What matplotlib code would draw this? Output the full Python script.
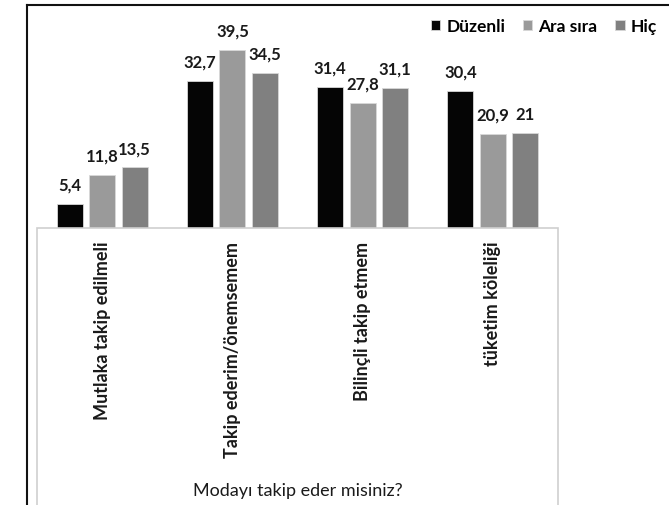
import numpy as np
import matplotlib
matplotlib.use('Agg')
import matplotlib.pyplot as plt
from matplotlib.patches import Rectangle
from matplotlib.lines import Line2D

categories = ['Mutlaka takip edilmeli', 'Takip ederim/önemsemem',
              'Bilinçli takip etmem', 'tüketim köleliği']
series = ['Düzenli', 'Ara sıra', 'Hiç']
duzenli = [5.4, 32.7, 31.4, 30.4]
ara_sira = [11.8, 39.5, 27.8, 20.9]
hic = [13.5, 34.5, 31.1, 21]
value_labels = [['5,4', '32,7', '31,4', '30,4'],
                ['11,8', '39,5', '27,8', '20,9'],
                ['13,5', '34,5', '31,1', '21']]
x_title = 'Modayı takip eder misiniz?'

colors = ['#050505', '#9a9a9a', '#808080']
font = ['Lato', 'DejaVu Sans']
plt.rcParams['font.family'] = font

W, H = 669, 506
fig = plt.figure(figsize=(W / 100, H / 100), dpi=100)
ax = fig.add_axes([37 / W, (H - 229) / H, (558 - 37) / W, (229 - 20) / H])

x = np.arange(len(categories))
bw = 0.2
pitch = 0.25
offsets = [-pitch, 0, pitch]
for i, vals in enumerate([duzenli, ara_sira, hic]):
    bars = ax.bar(x + offsets[i], vals, width=bw, color=colors[i],
                  edgecolor='#d8d8d8', linewidth=0.6, label=series[i])
    for b, lab in zip(bars, value_labels[i]):
        ax.annotate(lab, (b.get_x() + b.get_width() / 2, b.get_height()),
                    xytext=(0, 8), textcoords='offset points',
                    ha='center', va='bottom', fontsize=12, fontweight='bold',
                    color='#1a1a1a')

ax.set_xlim(-0.5, 3.5)
ax.set_ylim(0, 46.4)
ax.set_yticks([])
ax.set_xticks(x)
ax.set_xticklabels(categories, rotation=90, fontsize=13, fontweight='bold',
                   color='#1a1a1a')
ax.tick_params(axis='x', length=0, pad=9)
for s in ax.spines.values():
    s.set_visible(False)

# category axis box
fig.add_artist(Rectangle((37 / W, -0.1), (558 - 37) / W, 0.1 + (H - 229) / H,
                         transform=fig.transFigure, fill=False,
                         edgecolor='#cfcfcf', linewidth=1.2))
fig.text(297.5 / W, 1 - 491 / H, x_title, ha='center', va='center', fontsize=13,
         color='#1a1a1a')

# outer frame (left and top)
fig.add_artist(Line2D([26.5 / W, 26.5 / W], [0, 1 - 5.5 / H], transform=fig.transFigure,
                      color='#111111', linewidth=1.5))
fig.add_artist(Line2D([26.5 / W, 1], [1 - 5.5 / H, 1 - 5.5 / H], transform=fig.transFigure,
                      color='#111111', linewidth=1.5))

fig.legend(loc='center left', bbox_to_anchor=(424 / W, 1 - 27 / H), ncol=3,
           frameon=False, handlelength=0.55, handleheight=0.55, handletextpad=0.35,
           columnspacing=1.0, borderaxespad=0,
           prop={'family': font, 'weight': 'bold', 'size': 12.5})

fig.savefig('out.png', dpi=100)
